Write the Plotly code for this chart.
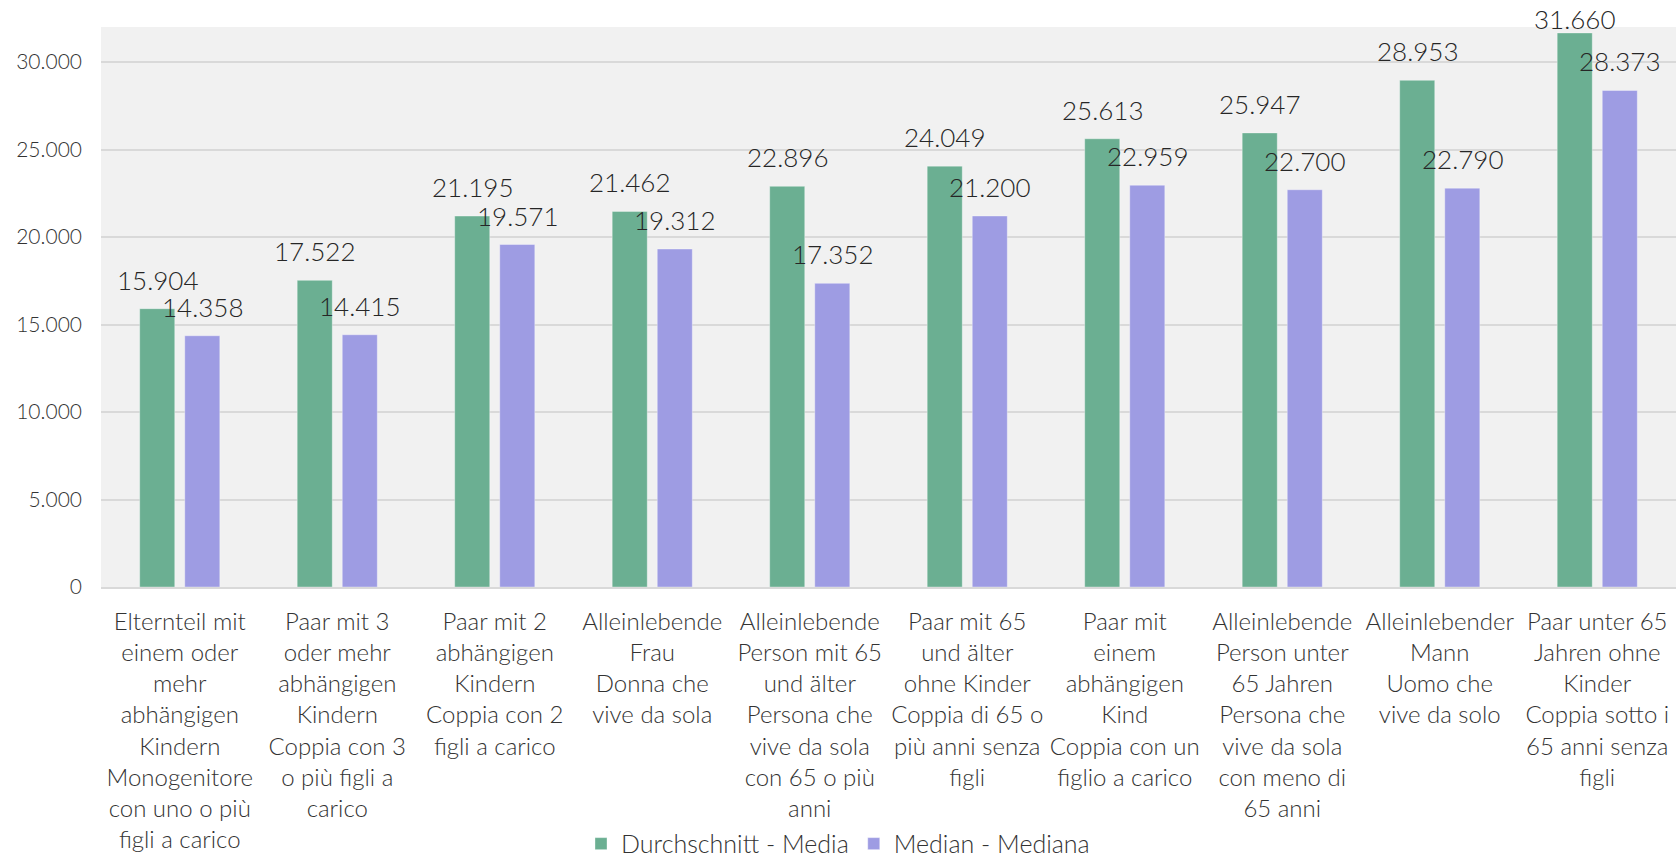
import plotly.graph_objects as go

categories = [
    "Elternteil mit<br>einem oder<br>mehr<br>abhängigen<br>Kindern<br>Monogenitore<br>con uno o più<br>figli a carico",
    "Paar mit 3<br>oder mehr<br>abhängigen<br>Kindern<br>Coppia con 3<br>o più figli a<br>carico",
    "Paar mit 2<br>abhängigen<br>Kindern<br>Coppia con 2<br>figli a carico",
    "Alleinlebende<br>Frau<br>Donna che<br>vive da sola",
    "Alleinlebende<br>Person mit 65<br>und älter<br>Persona che<br>vive da sola<br>con 65 o più<br>anni",
    "Paar mit 65<br>und älter<br>ohne Kinder<br>Coppia di 65 o<br>più anni senza<br>figli",
    "Paar mit<br>einem<br>abhängigen<br>Kind<br>Coppia con un<br>figlio a carico",
    "Alleinlebende<br>Person unter<br>65 Jahren<br>Persona che<br>vive da sola<br>con meno di<br>65 anni",
    "Alleinlebender<br>Mann<br>Uomo che<br>vive da solo",
    "Paar unter 65<br>Jahren ohne<br>Kinder<br>Coppia sotto i<br>65 anni senza<br>figli",
]
mean_values = [15904, 17522, 21195, 21462, 22896, 24049, 25613, 25947, 28953, 31660]
median_values = [14358, 14415, 19571, 19312, 17352, 21200, 22959, 22700, 22790, 28373]
series_names = ["Durchschnitt - Media", "Median - Mediana"]
y_ticks = [0, 5000, 10000, 15000, 20000, 25000, 30000]

W, H = 1676, 862
ML, MR, MT, MB = 101, 0, 27, 275
YMAX = 32000
FONT = "Lato"
GREEN = "#6BAF92"
PURPLE = "#9E9CE3"

fig = go.Figure()
fig.add_trace(go.Bar(x=categories, y=mean_values, name=series_names[0],
                     marker=dict(color=GREEN, line=dict(color="rgba(255,255,255,0.35)", width=1))))
fig.add_trace(go.Bar(x=categories, y=median_values, name=series_names[1],
                     marker=dict(color=PURPLE, line=dict(color="rgba(255,255,255,0.35)", width=1))))

def fmt(v):
    return f"{v:,}".replace(",", ".")

plot_h = H - MT - MB
annotations = []
for values, xs in ((mean_values, -22.5), (median_values, 22.5)):
    for i, v in enumerate(values):
        py = MT + (1 - v / YMAX) * plot_h
        ys = 29 if py - 29 >= 19 else py - 19
        annotations.append(dict(x=i, y=v, xref="x", yref="y", text=fmt(v), showarrow=False,
                                xshift=xs, yshift=ys, yanchor="middle",
                                font=dict(family=FONT, size=26, color="#262626", weight=300)))

fig.update_layout(
    width=W, height=H,
    margin=dict(l=ML, r=MR, t=MT, b=MB, autoexpand=False),
    paper_bgcolor="white", plot_bgcolor="#F1F1F1",
    barmode="group", bargap=0.428, bargroupgap=0.222,
    separators=",.",
    font=dict(family=FONT, color="#333333", weight=300),
    annotations=annotations,
    legend=dict(orientation="h", xref="container", yref="container", x=0.5, xanchor="center",
                y=0.021, yanchor="middle", font=dict(family=FONT, size=25, color="#333333", weight=300),
                itemwidth=30),
    showlegend=True,
)
fig.update_xaxes(type="category", tickfont=dict(family=FONT, size=24, color="#333333", weight=300),
                 ticks="", ticklabelstandoff=12, showline=True, linecolor="#D9D9D9", linewidth=2,
                 showgrid=False, automargin=False)
fig.update_yaxes(range=[0, YMAX], tickvals=y_ticks, tickformat=",d",
                 tickfont=dict(family=FONT, size=21, color="#333333", weight=300),
                 showgrid=True, gridcolor="#D9D9D9", gridwidth=2, zeroline=False,
                 ticks="", ticklabelstandoff=18, automargin=False)

fig.write_html("out.html", config={"displayModeBar": False},
               post_script="document.body.style.margin='0';")
